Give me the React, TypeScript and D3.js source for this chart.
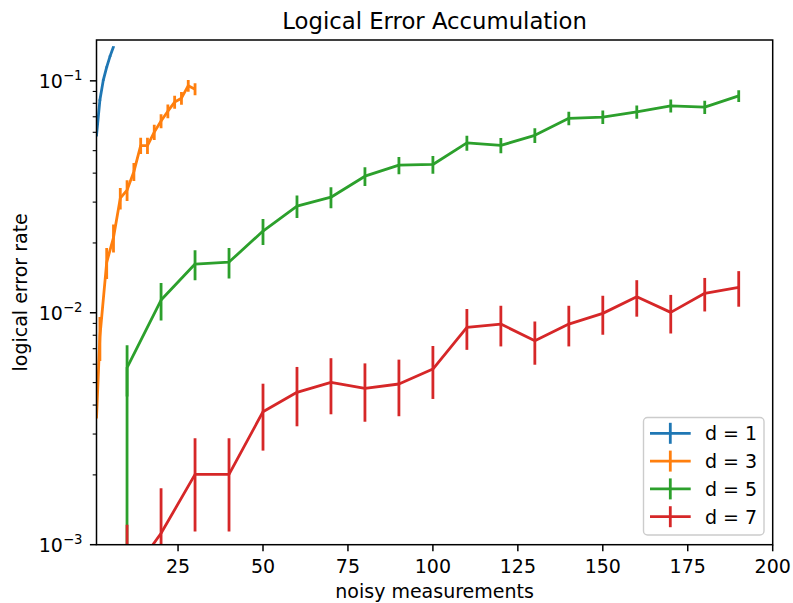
import React from "react";
import * as d3 from "d3";

// ---- data ----
const d1X = [1, 2, 3, 4, 5, 6];
const d1Y = [0.058, 0.0826, 0.1007, 0.1146, 0.1278, 0.1403];
const d1Err = [0.0004, 0.0005, 0.0006, 0.0006, 0.0007, 0.0007];

const d3X = [1, 2, 4, 6, 8, 10, 12, 14, 16, 18, 20, 22, 24, 26, 28, 30];
const d3Y = [0.0035, 0.0079, 0.0165, 0.0211, 0.0312, 0.0338, 0.0406, 0.0526, 0.0526, 0.0601, 0.0671, 0.074, 0.081, 0.0842, 0.0953, 0.0921];
const d3Err = [0, 0.0017, 0.0025, 0.0029, 0.0033, 0.0035, 0.0036, 0.0042, 0.0042, 0.0045, 0.0047, 0.005, 0.0052, 0.0053, 0.0056, 0.0055];

const d5X = [1, 10, 20, 30, 40, 50, 60, 70, 80, 90, 100, 110, 120, 130, 140, 150, 160, 170, 180, 190];
const d5Y = [0, 0.0058, 0.01135, 0.01622, 0.01654, 0.0225, 0.0288, 0.0315, 0.0388, 0.0433, 0.0436, 0.054, 0.0527, 0.0582, 0.0689, 0.0698, 0.0735, 0.078, 0.077, 0.0861];
const d5Err = [0, 0.00145, 0.0021, 0.0024, 0.0025, 0.0029, 0.0032, 0.0033, 0.0036, 0.0037, 0.0038, 0.004, 0.004, 0.0043, 0.0046, 0.0047, 0.0048, 0.005, 0.005, 0.005];

const d7X = [1, 10, 20, 30, 40, 50, 60, 70, 80, 90, 100, 110, 120, 130, 140, 150, 160, 170, 180, 190];
const d7Y = [0, 0.0007, 0.00112, 0.00201, 0.00201, 0.003745, 0.00454, 0.00501, 0.00472, 0.00493, 0.00572, 0.00865, 0.00894, 0.00757, 0.00894, 0.00994, 0.01172, 0.01004, 0.01213, 0.01287];
const d7Err = [0, 0.00052, 0.00063, 0.00087, 0.00087, 0.0012, 0.0013, 0.00136, 0.00133, 0.00135, 0.00147, 0.00173, 0.00178, 0.0016, 0.00178, 0.0019, 0.0021, 0.0019, 0.002, 0.00225];

const seriesLabels = ["d = 1", "d = 3", "d = 5", "d = 7"];
const seriesColors = ["#1f77b4", "#ff7f0e", "#2ca02c", "#d62728"];

const xTicks = [25, 50, 75, 100, 125, 150, 175, 200];
const yMajorExp = [-3, -2, -1];

const title = "Logical Error Accumulation";
const xLabel = "noisy measurements";
const yLabel = "logical error rate";

// ---- layout ----
const W = 793;
const H = 603;
const L = 96.5;
const R = 772.7;
const T = 40;
const B = 544.7;
const FONT = "DejaVu Sans, Liberation Sans, sans-serif";
const FS = 19;

export default function App() {
  const x = d3.scaleLinear().domain([1, 200]).range([L, R]);
  const y = d3.scaleLog().domain([1e-3, 0.15]).range([B, T]);
  const floor = (v: number) => Math.max(v, 1e-300);

  const series = [
    { xs: d1X, ys: d1Y, es: d1Err },
    { xs: d3X, ys: d3Y, es: d3Err },
    { xs: d5X, ys: d5Y, es: d5Err },
    { xs: d7X, ys: d7Y, es: d7Err },
  ];

  const line = d3
    .line<[number, number]>()
    .x((d) => x(d[0]))
    .y((d) => y(floor(d[1])));

  // minor ticks
  const minor: number[] = [];
  for (let e = -3; e <= -1; e++) {
    for (let m = 2; m <= 9; m++) {
      const v = m * Math.pow(10, e);
      if (v <= 0.15) minor.push(v);
    }
  }

  const lw = 2.8;

  return (
    <svg width={W} height={H} style={{ display: "block", position: "absolute", left: 0, top: 0 }} fontFamily={FONT}>
      <rect x={0} y={0} width={W} height={H} fill="white" />
      <defs>
        <clipPath id="plotclip">
          <rect x={L} y={T} width={R - L} height={B - T} />
        </clipPath>
      </defs>

      <g clipPath="url(#plotclip)">
        {series.map((s, i) => {
          const pts: [number, number][] = s.xs.map((xv, j) => [xv, s.ys[j]]);
          return (
            <g key={i}>
              <path d={line(pts) || ""} fill="none" stroke={seriesColors[i]} strokeWidth={lw} strokeLinejoin="round" strokeLinecap="butt" />
              {s.xs.map((xv, j) =>
                s.es[j] > 0 ? (
                  <line
                    key={j}
                    x1={x(xv)}
                    x2={x(xv)}
                    y1={y(floor(s.ys[j] + s.es[j]))}
                    y2={y(floor(s.ys[j] - s.es[j]))}
                    stroke={seriesColors[i]}
                    strokeWidth={lw}
                  />
                ) : null
              )}
            </g>
          );
        })}
      </g>

      {/* spines */}
      <rect x={L} y={T} width={R - L} height={B - T} fill="none" stroke="black" strokeWidth={1.5} />

      {/* x ticks */}
      {xTicks.map((t) => (
        <g key={t}>
          <line x1={x(t)} x2={x(t)} y1={B} y2={B + 6.6} stroke="black" strokeWidth={1.5} />
          <text x={x(t)} y={572.5} fontSize={FS} textAnchor="middle" fill="black">
            {t}
          </text>
        </g>
      ))}

      {/* y minor ticks */}
      {minor.map((v, i) => (
        <line key={i} x1={L - 3.8} x2={L} y1={y(v)} y2={y(v)} stroke="black" strokeWidth={1.1} />
      ))}

      {/* y major ticks */}
      {yMajorExp.map((e) => {
        const yy = y(Math.pow(10, e));
        return (
          <g key={e}>
            <line x1={L - 6.6} x2={L} y1={yy} y2={yy} stroke="black" strokeWidth={1.5} />
            <text x={82.5} y={yy + 7} fontSize={FS} textAnchor="end" fill="black">
              10
              <tspan fontSize={13.3} dy={-8}>
                {"\u2212" + Math.abs(e)}
              </tspan>
            </text>
          </g>
        );
      })}

      {/* labels */}
      <text x={(L + R) / 2} y={28.5} fontSize={22.75} textAnchor="middle" fill="black">
        {title}
      </text>
      <text x={(L + R) / 2} y={597.5} fontSize={FS} textAnchor="middle" fill="black">
        {xLabel}
      </text>
      <text transform={`translate(26.5, ${(T + B) / 2}) rotate(-90)`} fontSize={FS} textAnchor="middle" fill="black">
        {yLabel}
      </text>

      {/* legend */}
      <rect x={643.5} y={417.5} width={120.5} height={117.5} rx={4} fill="white" fillOpacity={0.8} stroke="#cccccc" strokeWidth={1.4} />
      {seriesLabels.map((lab, i) => {
        const yy = 433.3 + i * 27.8;
        return (
          <g key={lab}>
            <line x1={650} x2={690.7} y1={yy} y2={yy} stroke={seriesColors[i]} strokeWidth={lw} />
            <line x1={670.3} x2={670.3} y1={yy - 10.5} y2={yy + 10.5} stroke={seriesColors[i]} strokeWidth={lw} />
            <text x={705} y={yy + 6.8} fontSize={FS} fill="black">
              {lab}
            </text>
          </g>
        );
      })}
    </svg>
  );
}
